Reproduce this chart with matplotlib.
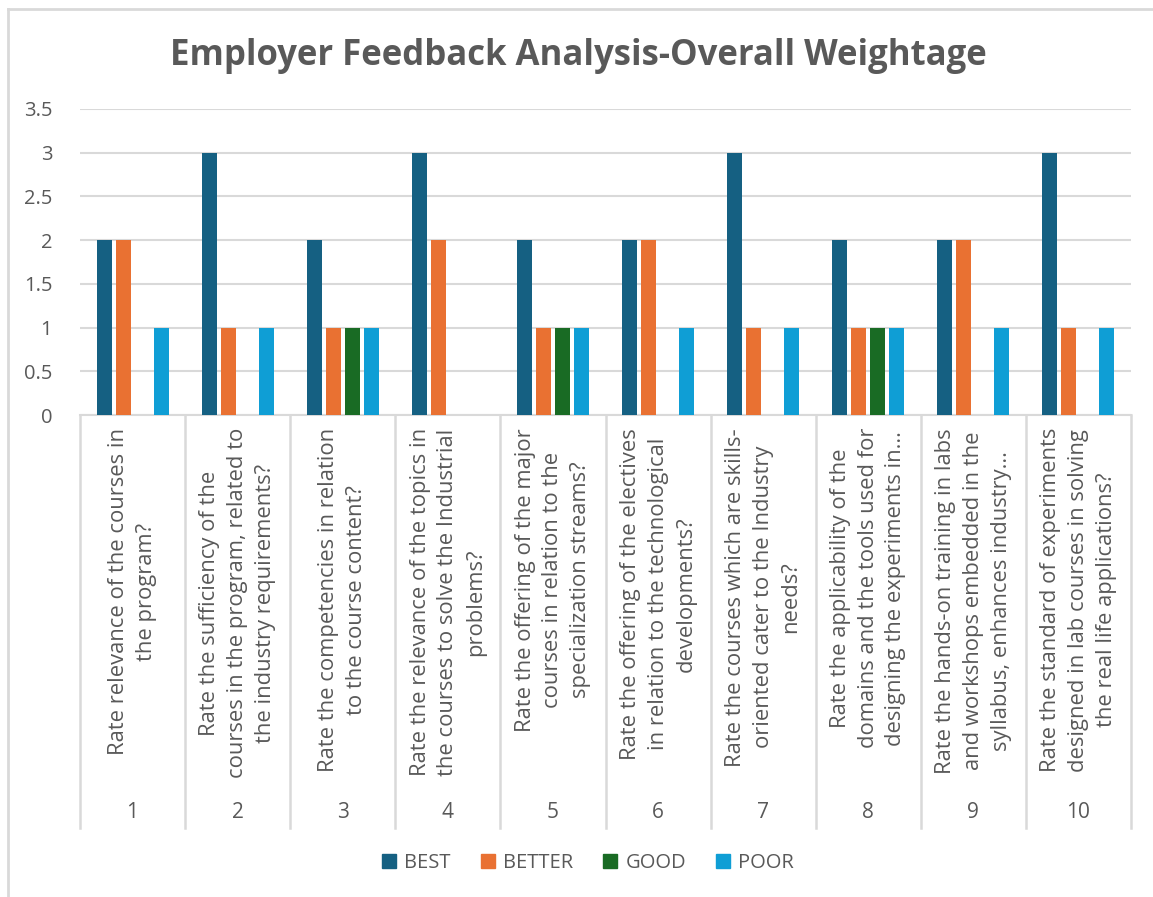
import matplotlib
matplotlib.use("Agg")
import matplotlib.pyplot as plt
import numpy as np
from matplotlib.patches import Patch
from matplotlib.lines import Line2D

plt.rcParams['font.family'] = ['Open Sans', 'DejaVu Sans']

questions = [
    "Rate relevance of the courses in\nthe program?",
    "Rate the sufficiency of the\ncourses in the program, related to\nthe industry requirements?",
    "Rate the competencies in relation\nto the course content?",
    "Rate the relevance of the topics in\nthe courses to solve the Industrial\nproblems?",
    "Rate the offering of the major\ncourses in relation to the\nspecialization streams?",
    "Rate the offering of the electives\nin relation to the technological\ndevelopments?",
    "Rate the courses which are skills-\noriented cater to the Industry\nneeds?",
    "Rate the applicability of the\ndomains and the tools used for\ndesigning the experiments in...",
    "Rate the hands-on training in labs\nand workshops embedded in the\nsyllabus, enhances industry...",
    "Rate the standard of experiments\ndesigned in lab courses in solving\nthe real life applications?",
]
numbers = ["1", "2", "3", "4", "5", "6", "7", "8", "9", "10"]
series_names = ["BEST", "BETTER", "GOOD", "POOR"]
best = [2, 3, 2, 3, 2, 2, 3, 2, 2, 3]
better = [2, 1, 1, 2, 1, 2, 1, 1, 2, 1]
good = [0, 0, 1, 0, 1, 0, 0, 1, 0, 0]
poor = [1, 1, 1, 0, 1, 1, 1, 1, 1, 1]
colors = ["#156082", "#E97132", "#196B24", "#0F9ED5"]

W, H = 1153, 897
fig = plt.figure(figsize=(W / 100, H / 100), dpi=100)
fig.patch.set_facecolor("white")

ax = fig.add_axes([80 / W, (H - 415) / H, (1131 - 80) / W, (415 - 109) / H])
txt = "#595959"
grid = "#D9D9D9"

x = np.arange(len(numbers))
bw = 0.143
step = 0.181
for k, (vals, c) in enumerate(zip([best, better, good, poor], colors)):
    ax.bar(x + (k - 1.5) * step, vals, width=bw, color=c, zorder=3)

ax.set_xlim(-0.5, len(numbers) - 0.5)
ax.set_ylim(0, 3.5)
ax.set_yticks(np.arange(0, 3.51, 0.5))
ax.set_yticklabels(["0", "0.5", "1", "1.5", "2", "2.5", "3", "3.5"])
ax.tick_params(axis="y", length=0, labelsize=14.5, labelcolor=txt, pad=20)
ax.tick_params(axis="x", length=0, labelbottom=False)
for s in ["top", "right", "left"]:
    ax.spines[s].set_visible(False)
ax.spines["bottom"].set_color(grid)
ax.spines["bottom"].set_linewidth(1.5)
ax.yaxis.grid(True, color=grid, linewidth=1.5, zorder=0)
ax.set_axisbelow(True)

trans = ax.get_xaxis_transform()
ph = 415 - 109
for i, (q, n) in enumerate(zip(questions, numbers)):
    ax.text(i, (415 - 428) / ph, q, transform=trans, rotation=90, ha="center", va="top",
            multialignment="center", fontsize=15.8, color=txt, linespacing=1.42)
    ax.text(i, (415 - 812) / ph, n, transform=trans, ha="center", va="center",
            fontsize=15, color=txt)
for b in np.arange(-0.5, len(numbers), 1.0):
    ax.add_line(Line2D([b, b], [0, (415 - 828) / ph], transform=trans, color=grid,
                       linewidth=1.8, clip_on=False))

fig.text(578 / W, (H - 56) / H, "Employer Feedback Analysis-Overall Weightage",
         ha="center", va="center", fontsize=25, fontweight="bold", color=txt)

handles = [Patch(facecolor=c, edgecolor=c) for c in colors]
fig.legend(handles, series_names, loc="center", bbox_to_anchor=(588 / W, (H - 863) / H),
           ncol=4, frameon=False, fontsize=14.5, labelcolor=txt, handlelength=0.7,
           handleheight=0.7, handletextpad=0.4, columnspacing=1.5)

# chart border (top and left visible)
fig.add_artist(Line2D([8 / W, 1.0], [(H - 9) / H, (H - 9) / H], color=grid, linewidth=2))
fig.add_artist(Line2D([8 / W, 8 / W], [0, (H - 9) / H], color=grid, linewidth=2))

fig.savefig("out.png", dpi=100, facecolor="white")
